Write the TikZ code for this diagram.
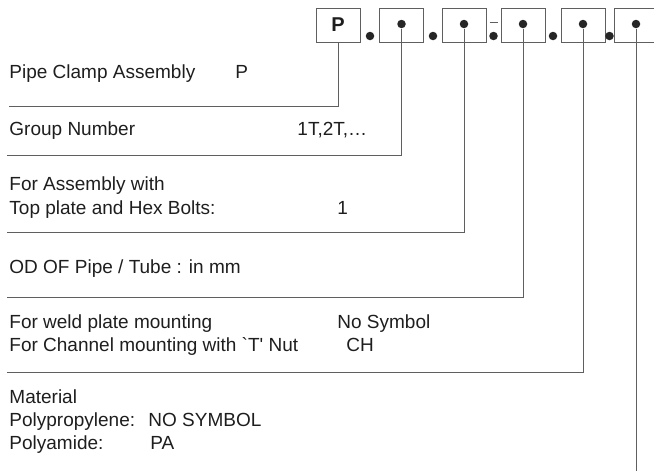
\documentclass[tikz,border=0pt]{standalone}
\usepackage{fontspec}
\setmainfont{Liberation Sans}[Ligatures=TeXOff]
\usetikzlibrary{positioning}
\definecolor{linegray}{RGB}{95,95,95}
\definecolor{txtgray}{RGB}{30,30,30}

\begin{document}
\begin{tikzpicture}[x=10pt, y=-10pt, line width=0.9pt,
    box/.style={draw=linegray, minimum width=44pt, minimum height=34pt, inner sep=0pt},
    blob/.style={circle, fill=black!85, inner sep=0pt, minimum size=8.5pt},
    lbl/.style={anchor=base west, inner sep=0pt, text=txtgray, font=\fontsize{19}{22}\selectfont},
    lead/.style={draw=linegray}]
    \useasboundingbox (0,0) rectangle (65.4,47.1);

    % --- code boxes ---
    \node[box, font=\fontsize{20}{24}\selectfont\bfseries, text=txtgray] (bp) at (33.8,2.5) {P};
    \node[box] (bg) at (40.15,2.5) {};
    \node[box] (ba) at (46.4,2.5) {};
    \node[box] (bd) at (52.3,2.5) {};
    \node[box] (bm) at (58.3,2.5) {};
    \node[box] (bt) at (63.6,2.5) {};
    % dots inside the boxes
    \node[blob] (dg) at (40.15,2.4) {};
    \node[blob] (da) at (46.4,2.4) {};
    \node[blob] (dd) at (52.3,2.4) {};
    \node[blob] (dm) at (58.3,2.4) {};
    \node[blob] (dt) at (63.6,2.4) {};
    % separators
    \node[blob] (s1) at (37.0,3.6) {};
    \node[blob] (s2) at (43.3,3.6) {};
    \node[blob] (s3) at (49.35,3.6) {};
    \node[blob] (s4) at (55.3,3.6) {};
    \node[blob] (s5) at (60.95,3.6) {};
    \draw[linegray] (48.95,2.25) -- (49.75,2.25);

    % --- labels ---
    \node[lbl] (tp) at (0.9,7.85) {Pipe Clamp Assembly};
    \node[lbl] (vp) at (23.5,7.85) {P};
    \node[lbl] (tg) at (0.9,13.55) {Group Number};
    \node[lbl] (vg) at (29.7,13.55) {1T,2T,\ldots};
    \node[lbl] (ta) at (0.9,19.05) {For Assembly with};
    \node[lbl] (tb) at (0.9,21.45) {Top plate and Hex Bolts:};
    \node[lbl] (va) at (33.7,21.45) {1};
    \node[lbl] (td) at (0.9,27.35) {OD OF Pipe / Tube : in mm};
    \node[lbl] (tw) at (0.9,32.85) {For weld plate mounting};
    \node[lbl] (vw) at (33.7,32.85) {No Symbol};
    \node[lbl] (tc) at (0.9,35.15) {For Channel mounting with `T' Nut};
    \node[lbl] (vc) at (34.6,35.15) {CH};
    \node[lbl] (tm) at (0.9,40.35) {Material};
    \node[lbl] (tpp) at (0.9,42.65) {Polypropylene:};
    \node[lbl] (vpp) at (14.8,42.65) {NO SYMBOL};
    \node[lbl] (tpa) at (0.9,44.95) {Polyamide:};
    \node[lbl] (vpa) at (15.0,44.95) {PA};

    % --- leaders ---
    \coordinate (e1) at (0.9,10.6);
    \coordinate (e2) at (0.7,15.5);
    \coordinate (e3) at (0.7,23.2);
    \coordinate (e4) at (0.7,29.7);
    \coordinate (e5) at (0.7,37.2);
    \coordinate (e6) at (63.6,47.1);
    \draw[lead] (bp.south) |- (e1);
    \draw[lead] (dg) |- (e2);
    \draw[lead] (da) |- (e3);
    \draw[lead] (dd) |- (e4);
    \draw[lead] (dm) |- (e5);
    \draw[lead] (dt) -- (e6);
\end{tikzpicture}
\end{document}
